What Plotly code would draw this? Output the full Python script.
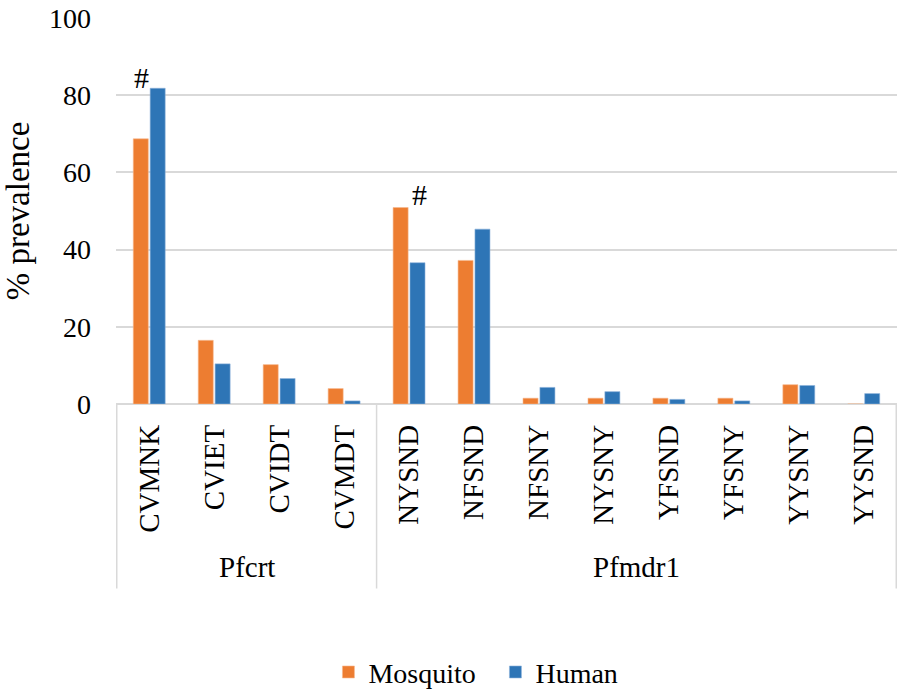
import plotly.graph_objects as go

categories = ["CVMNK", "CVIET", "CVIDT", "CVMDT", "NYSND", "NFSND",
              "NFSNY", "NYSNY", "YFSND", "YFSNY", "YYSNY", "YYSND"]
mosquito = [68.7, 16.5, 10.2, 4.0, 50.9, 37.2, 1.5, 1.5, 1.5, 1.5, 5.0, 0.0]
human = [81.8, 10.4, 6.6, 0.8, 36.6, 45.3, 4.3, 3.2, 1.2, 0.8, 4.8, 2.7]
groups = [("Pfcrt", 0, 3), ("Pfmdr1", 4, 11)]
y_ticks = [0, 20, 40, 60, 80, 100]
marks = [(0, "#"), (4, "#")]

FONT = "Liberation Serif"
GRID = "#d9d9d9"

fig = go.Figure()
fig.add_trace(go.Bar(x=categories, y=mosquito, name="Mosquito",
                     marker=dict(color="#ED7D31", line=dict(width=0.6, color="#f6b88f"))))
fig.add_trace(go.Bar(x=categories, y=human, name="Human",
                     marker=dict(color="#2E75B6", line=dict(width=0.6, color="#8fb4dc"))))

# separators in the category-axis area
sep_positions = [-0.5] + [g[2] + 0.5 for g in groups]
for xp in sep_positions:
    fig.add_shape(type="line", xref="x", yref="paper", x0=xp, x1=xp,
                  y0=0, y1=-0.478, line=dict(color=GRID, width=1.5))

for name, a, b in groups:
    fig.add_annotation(x=(a + b) / 2, y=-0.422, xref="x", yref="paper",
                       xanchor="center", yanchor="middle",
                       text=name, showarrow=False,
                       font=dict(family=FONT, size=29, color="#000"))

# "#" marks
offsets = {0: (-0.115, 84.7), 4: (0.16, 54.2)}
for idx, txt in marks:
    dx, yv = offsets[idx]
    fig.add_annotation(x=idx + dx, y=yv, xref="x", yref="y", text=txt,
                       xanchor="center", yanchor="middle",
                       showarrow=False, font=dict(family=FONT, size=30, color="#000"))

fig.update_layout(
    width=898, height=699,
    margin=dict(l=116, r=1, t=18, b=289),
    plot_bgcolor="white", paper_bgcolor="white",
    barmode="group", bargap=0.48, bargroupgap=0.11,
    font=dict(family=FONT, size=28, color="#000"),
    showlegend=True,
    legend=dict(orientation="h", x=0.272, xanchor="left", y=-0.695, yanchor="middle",
                font=dict(family=FONT, size=28, color="#000"), itemwidth=30,
                entrywidth=122, entrywidthmode="pixels"),
    xaxis=dict(type="category", tickangle=-90, showgrid=False, showline=False,
               zeroline=False, ticks="", ticklabelstandoff=14, automargin=False,
               tickfont=dict(family=FONT, size=29)),
    yaxis=dict(range=[0, 100], tickvals=y_ticks, showgrid=True, gridcolor=GRID,
               gridwidth=1.5, zeroline=True, zerolinecolor=GRID, zerolinewidth=1.5,
               showline=False, ticks="", ticklabelstandoff=24, automargin=False,
               tickfont=dict(family=FONT, size=28),
               title=dict(text="% prevalence", font=dict(family=FONT, size=33), standoff=18)),
)

fig.write_html("out.html", config={"displayModeBar": False},
               post_script="document.body.style.margin='0';document.body.style.overflow='hidden';")
